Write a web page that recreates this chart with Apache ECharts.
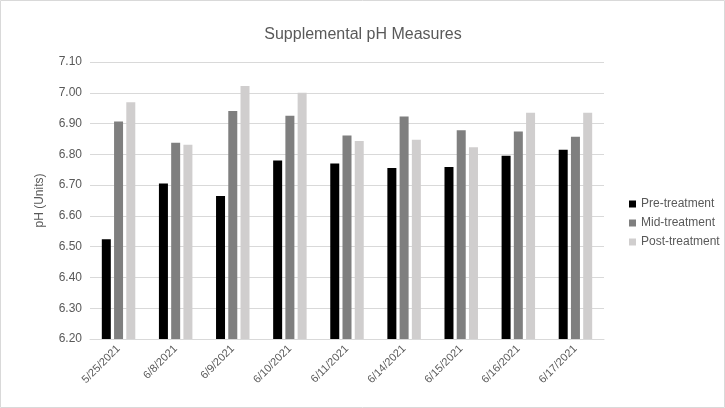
<!DOCTYPE html>
<html><head><meta charset="utf-8">
<script src="https://cdn.jsdelivr.net/npm/echarts@6/dist/echarts.min.js"></script>
<style>html,body{margin:0;padding:0;background:#fff}#c{width:725px;height:408px}</style>
</head><body><div id="c"></div>
<script>
const categories = ['5/25/2021','6/8/2021','6/9/2021','6/10/2021','6/11/2021','6/14/2021','6/15/2021','6/16/2021','6/17/2021'];
const preTreatment  = [6.524, 6.705, 6.665, 6.780, 6.770, 6.756, 6.759, 6.795, 6.815];
const midTreatment  = [6.907, 6.838, 6.941, 6.925, 6.861, 6.923, 6.878, 6.874, 6.857];
const postTreatment = [6.969, 6.831, 7.022, 7.000, 6.843, 6.847, 6.823, 6.935, 6.935];
const seriesNames = ['Pre-treatment','Mid-treatment','Post-treatment'];
const colors = ['#000000','#7f7f7f','#d0cece'];
const FONT = 'Liberation Sans';

const chart = echarts.init(document.getElementById('c'));
chart.setOption({
  animation: false,
  textStyle: {fontFamily: FONT},
  graphic: [{type:'rect', shape:{x:0.5,y:0.5,width:724,height:407}, style:{fill:'none', stroke:'#d9d9d9', lineWidth:1}}],
  title: {text:'Supplemental pH Measures', left: 358, top: 22, textAlign:'center',
    textStyle:{fontFamily:FONT, fontSize:16, fontWeight:'normal', color:'#595959'}},
  legend: {orient:'vertical', left: 624, top: 193, itemWidth:7, itemHeight:7, itemGap:7,
    icon:'rect', data: seriesNames,
    textStyle:{fontFamily:FONT, fontSize:12, color:'#595959'}},
  grid: {left: 90, right: 121, top: 62, bottom: 69, containLabel:false},
  xAxis: {type:'category', data: categories,
    axisLine:{lineStyle:{color:'#d9d9d9'}}, axisTick:{show:false},
    axisLabel:{rotate:45, fontSize:11, color:'#595959', margin:8, interval:0}},
  yAxis: {type:'value', min:6.2, max:7.1, interval:0.1,
    name:'pH (Units)', nameLocation:'middle', nameGap:44, nameRotate:90,
    nameTextStyle:{fontFamily:FONT, fontSize:12, color:'#595959'},
    axisLine:{show:false}, axisTick:{show:false},
    splitLine:{lineStyle:{color:'#d9d9d9'}},
    axisLabel:{formatter:v=>v.toFixed(2), fontSize:12, color:'#595959', margin:8}},
  series: [
    {name:seriesNames[0], type:'bar', data:preTreatment, itemStyle:{color:colors[0]}, barWidth:9, barGap:'36%', barCategoryGap:'39%'},
    {name:seriesNames[1], type:'bar', data:midTreatment, itemStyle:{color:colors[1]}, barWidth:9, barGap:'36%'},
    {name:seriesNames[2], type:'bar', data:postTreatment, itemStyle:{color:colors[2]}, barWidth:9, barGap:'36%'}
  ]
});
</script></body></html>
